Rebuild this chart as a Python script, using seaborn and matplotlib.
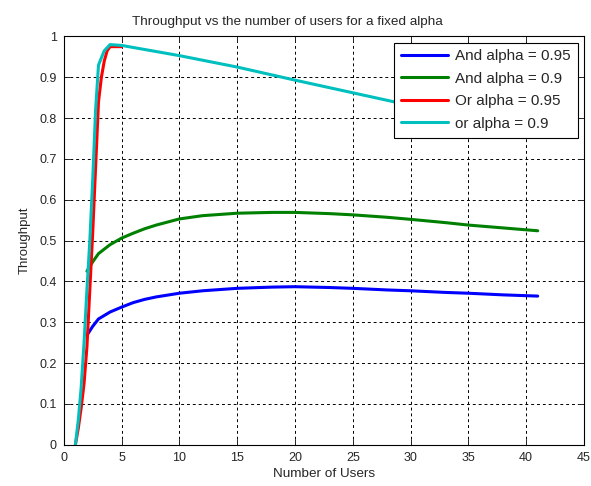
import numpy as np
import pandas as pd
import matplotlib
matplotlib.use("Agg")
import matplotlib.pyplot as plt
import seaborn as sns

# values
and95_users = [2, 2.5, 3, 4, 5, 6, 7, 8, 10, 12, 15, 18, 20, 23, 25, 28, 30, 33, 35, 38, 41]
and95_thr = [0.268, 0.29, 0.308, 0.325, 0.337, 0.348, 0.356, 0.362, 0.371, 0.377, 0.383, 0.386, 0.387, 0.385, 0.383, 0.379, 0.377, 0.373, 0.371, 0.367, 0.364]

and90_users = [2, 2.5, 3, 4, 5, 6, 7, 8, 10, 12, 15, 18, 20, 23, 25, 28, 30, 33, 35, 38, 41]
and90_thr = [0.425, 0.448, 0.468, 0.49, 0.506, 0.518, 0.529, 0.538, 0.553, 0.561, 0.567, 0.569, 0.569, 0.566, 0.563, 0.557, 0.552, 0.544, 0.538, 0.531, 0.524]

or95_users = [1, 1.25, 1.5, 1.75, 2, 2.25, 2.5, 2.75, 3, 3.25, 3.5, 3.75, 4, 5]
or95_thr = [0.0, 0.04, 0.09, 0.15, 0.24, 0.38, 0.52, 0.68, 0.84, 0.9, 0.94, 0.965, 0.975, 0.975]

or90_users = [1, 1.25, 1.5, 1.75, 2, 2.25, 2.5, 2.75, 3, 3.5, 4, 5, 10, 15, 20, 25, 30, 35, 41]
or90_thr = [0.0, 0.06, 0.14, 0.25, 0.38, 0.5, 0.65, 0.82, 0.93, 0.965, 0.98, 0.978, 0.953, 0.925, 0.893, 0.862, 0.831, 0.8, 0.765]

series = [
    ("And alpha = 0.95", and95_users, and95_thr, "#0000ff"),
    ("And alpha = 0.9", and90_users, and90_thr, "#008000"),
    ("Or alpha = 0.95", or95_users, or95_thr, "#ff0000"),
    ("or alpha = 0.9", or90_users, or90_thr, "#00bfbf"),
]

sns.set_style("ticks")
plt.rcParams['font.family'] = ['Liberation Sans', 'DejaVu Sans']

fig = plt.figure(figsize=(5.91, 4.86), dpi=100)
ax = fig.add_axes([0.108, 0.085, 0.88, 0.84])

for name, users, thr, col in series:
    df = pd.DataFrame({'users': users, 'thr': thr})
    sns.lineplot(data=df, x='users', y='thr', ax=ax, color=col, linewidth=2.2,
                 label=name, sort=False, estimator=None)

ax.set_xlim(0, 45)
ax.set_ylim(0, 1)
ax.set_xticks(np.arange(0, 46, 5))
ax.set_yticks(np.arange(0, 1.01, 0.1))
ax.set_yticklabels(['0', '0.1', '0.2', '0.3', '0.4', '0.5', '0.6', '0.7', '0.8', '0.9', '1'])
ax.grid(True, color='black', linestyle=(0, (3, 3)), linewidth=0.7)
ax.tick_params(direction='in', top=True, right=True, labelsize=9, length=4, width=0.7, pad=5)
for sp in ax.spines.values():
    sp.set_visible(True)
    sp.set_linewidth(0.8)
    sp.set_color('black')

ax.set_title('Throughput vs the number of users for a fixed alpha', fontsize=9.7, x=0.43, pad=8)
ax.set_xlabel('Number of Users', fontsize=9.7, labelpad=3)
ax.set_ylabel('Throughput', fontsize=9.5, labelpad=6)

leg = ax.legend(loc='upper right', fontsize=11, fancybox=False, framealpha=1,
                edgecolor='black', handlelength=3.1, borderaxespad=0.4,
                labelspacing=0.55, borderpad=0.45, handletextpad=0.45)
leg.get_frame().set_linewidth(0.8)

fig.savefig('out.png', dpi=100, facecolor='white')
